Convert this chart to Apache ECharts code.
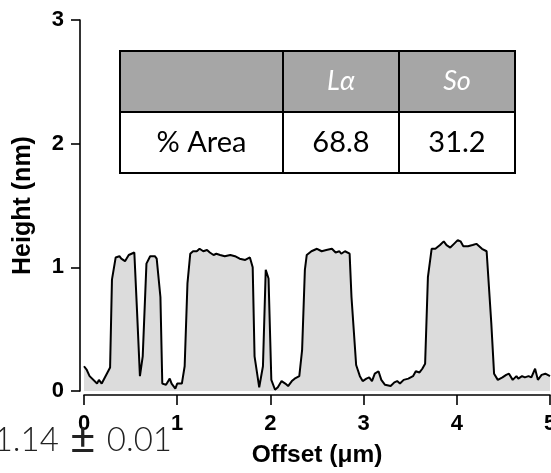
<!DOCTYPE html>
<html>
<head>
<meta charset="utf-8">
<script src="https://cdn.jsdelivr.net/npm/echarts@6/dist/echarts.min.js"></script>
<style>
html, body { margin: 0; padding: 0; background: #fff; }
#chart { width: 551px; height: 473px; }
</style>
</head>
<body>
<div id="chart"></div>
<script>
// height profile
var offsetUm = [0.00, 0.03, 0.06, 0.08, 0.14, 0.16, 0.19, 0.21, 0.28, 0.30, 0.34, 0.38, 0.40, 0.44, 0.48, 0.54,
	0.57, 0.60, 0.63, 0.67, 0.71, 0.76, 0.78, 0.82, 0.84, 0.88, 0.92, 0.94, 0.98, 1.00, 1.02, 1.05,
	1.08, 1.11, 1.14, 1.17, 1.21, 1.24, 1.28, 1.32, 1.35, 1.39, 1.42, 1.46, 1.51, 1.57, 1.62, 1.67,
	1.73, 1.78, 1.81, 1.83, 1.88, 1.92, 1.95, 1.98, 2.01, 2.05, 2.08, 2.12, 2.16, 2.19, 2.23, 2.26,
	2.31, 2.34, 2.37, 2.39, 2.44, 2.50, 2.55, 2.60, 2.66, 2.70, 2.74, 2.76, 2.80, 2.85, 2.87, 2.92,
	2.96, 2.99, 3.03, 3.06, 3.09, 3.12, 3.16, 3.19, 3.23, 3.25, 3.29, 3.33, 3.36, 3.39, 3.43, 3.48,
	3.53, 3.56, 3.60, 3.63, 3.66, 3.69, 3.73, 3.77, 3.82, 3.86, 3.89, 3.93, 3.97, 4.01, 4.04, 4.07,
	4.12, 4.17, 4.21, 4.27, 4.32, 4.34, 4.37, 4.40, 4.44, 4.49, 4.53, 4.56, 4.60, 4.64, 4.66, 4.70,
	4.73, 4.77, 4.80, 4.84, 4.87, 4.91, 4.95, 5.00];
var heightNm = [0.20, 0.17, 0.12, 0.13, 0.06, 0.09, 0.06, 0.06, 0.19, 0.90, 1.08, 1.09, 1.07, 1.05, 1.10, 1.12,
	0.63, 0.12, 0.28, 1.03, 1.09, 1.09, 1.07, 0.76, 0.06, 0.05, 0.10, 0.06, 0.02, 0.06, 0.05, 0.06,
	0.20, 0.87, 1.11, 1.13, 1.13, 1.15, 1.13, 1.14, 1.12, 1.10, 1.11, 1.10, 1.09, 1.10, 1.09, 1.07,
	1.06, 1.08, 1.00, 0.28, 0.03, 0.20, 0.98, 0.91, 0.09, 0.01, 0.03, 0.08, 0.06, 0.04, 0.08, 0.10,
	0.12, 0.33, 0.98, 1.10, 1.13, 1.15, 1.13, 1.14, 1.15, 1.12, 1.13, 1.11, 1.13, 1.11, 0.76, 0.21,
	0.12, 0.08, 0.10, 0.11, 0.08, 0.14, 0.16, 0.09, 0.05, 0.06, 0.04, 0.07, 0.08, 0.06, 0.09, 0.10,
	0.12, 0.16, 0.15, 0.18, 0.22, 0.92, 1.15, 1.15, 1.18, 1.21, 1.18, 1.16, 1.19, 1.22, 1.21, 1.17,
	1.17, 1.18, 1.19, 1.15, 1.13, 1.13, 0.55, 0.14, 0.09, 0.11, 0.13, 0.14, 0.09, 0.12, 0.10, 0.12,
	0.11, 0.12, 0.11, 0.18, 0.09, 0.13, 0.14, 0.12];
var xMin = 0, xMax = 5, xStep = 1;
var yMin = 0, yMax = 3, yStep = 1;
// inset table
var tableHead = ['', 'Lα', 'So'];
var tableRow = ['% Area', '68.8', '31.2'];
var noteParts = ['1.14', '±', '0.01'];

var chart = echarts.init(document.getElementById('chart'));

var points = offsetUm.map(function(x, i) { return [x, heightNm[i]]; });

// table layout
var colEdges = [120, 283, 399, 515];
var rowEdges = [51, 112, 173];
var tableFont = 'Lato, "Open Sans", sans-serif';
var graphics = [];
[tableHead, tableRow].forEach(function(row, r) {
	row.forEach(function(txt, c) {
		graphics.push({
			type: 'rect',
			shape: { x: colEdges[c], y: rowEdges[r], width: colEdges[c + 1] - colEdges[c], height: rowEdges[r + 1] - rowEdges[r] },
			style: { fill: r === 0 ? '#a6a6a6' : '#fff', stroke: '#000', lineWidth: 2 },
			z: 10
		});
		graphics.push({
			type: 'text',
			x: (colEdges[c] + colEdges[c + 1]) / 2,
			y: (rowEdges[r] + rowEdges[r + 1]) / 2,
			style: {
				text: txt, align: 'center', verticalAlign: 'middle',
				fill: r === 0 ? '#fff' : '#000',
				fontFamily: tableFont,
				fontStyle: r === 0 ? 'italic' : 'normal',
				fontSize: r === 0 ? 27 : 29
			},
			z: 11
		});
	});
});
// value under the plot, cut at the left edge like the original
graphics.push({
	type: 'text', x: 172, y: 462,
	style: {
		text: '{n|' + noteParts[0] + '}{g| }{pm|' + noteParts[1] + '}{g| }{n|' + noteParts[2] + '}',
		align: 'right', verticalAlign: 'bottom',
		rich: {
			n: { fontFamily: tableFont, fontWeight: 300, fontSize: 33, fill: '#222', color: '#222' },
			g: { fontFamily: tableFont, fontSize: 44 },
			pm: { fontFamily: tableFont, fontWeight: 400, fontSize: 44, fill: '#222', color: '#222' }
		}
	},
	z: 11
});

var axisFont = '"Liberation Sans", Arial, sans-serif';
var option = {
	animation: false,
	grid: { left: 84, top: 20, right: 1, bottom: 82, outerBoundsMode: 'none', containLabel: false },
	xAxis: {
		type: 'value', min: xMin, max: xMax, interval: xStep, offset: 4,
		name: 'Offset (μm)', nameLocation: 'middle', nameGap: 48,
		nameTextStyle: { fontFamily: axisFont, fontWeight: 'bold', fontSize: 24.5, color: '#000' },
		axisLine: { show: true, onZero: false, lineStyle: { color: '#000', width: 1.6 } },
		axisTick: { show: true, length: 10, lineStyle: { color: '#000', width: 1.6 } },
		axisLabel: { margin: 18, fontFamily: axisFont, fontWeight: 'bold', fontSize: 22, color: '#000', showMaxLabel: true },
		splitLine: { show: false }
	},
	yAxis: {
		type: 'value', min: yMin, max: yMax, interval: yStep, offset: 4,
		name: 'Height (nm)', nameLocation: 'middle', nameGap: 44, nameRotate: 90,
		nameTextStyle: { fontFamily: axisFont, fontWeight: 'bold', fontSize: 25, color: '#000' },
		axisLine: { show: true, onZero: false, lineStyle: { color: '#000', width: 1.6 } },
		axisTick: { show: true, length: 9, lineStyle: { color: '#000', width: 1.6 } },
		axisLabel: { margin: 16, fontFamily: axisFont, fontWeight: 'bold', fontSize: 22, color: '#000' },
		splitLine: { show: false }
	},
	series: [{
		type: 'line',
		data: points,
		showSymbol: false,
		clip: false,
		lineStyle: { color: '#000', width: 2 },
		areaStyle: { color: '#dcdcdc', opacity: 1 }
	}],
	graphic: graphics
};
chart.setOption(option);
window.onresize = chart.resize;
</script>
</body>
</html>
